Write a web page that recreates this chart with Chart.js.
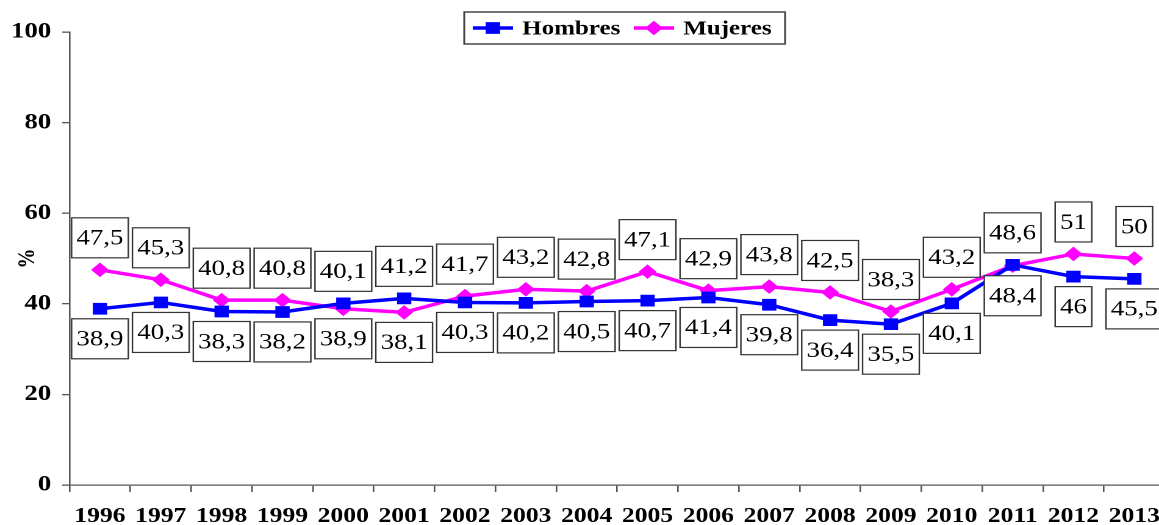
<!DOCTYPE html>
<html><head><meta charset="utf-8">
<script src="https://cdn.jsdelivr.net/npm/chart.js@4.4.1/dist/chart.umd.min.js"></script>
<style>
html,body{margin:0;padding:0;overflow:hidden;background:#fff;width:1159px;height:525px}
#wrap{position:absolute;left:0;top:0;width:963px;height:525px;transform:scaleX(1.22);transform-origin:0 0}
</style></head><body>
<div id="wrap"><canvas id="c" width="963" height="525" style="width:963px;height:525px"></canvas></div>
<script>
const categories = ['1996','1997','1998','1999','2000','2001','2002','2003','2004','2005','2006','2007','2008','2009','2010','2011','2012','2013'];
const hombres = [38.9,40.3,38.3,38.2,40.1,41.2,40.3,40.2,40.5,40.7,41.4,39.8,36.4,35.5,40.1,48.6,46,45.5];
const mujeres = [47.5,45.3,40.8,40.8,38.9,38.1,41.7,43.2,42.8,47.1,42.9,43.8,42.5,38.3,43.2,48.4,51,50];
const seriesNames = ['Hombres','Mujeres'];
const yMin = 0, yMax = 100, yStep = 20;
const yTitle = '%';

const SERIF = '"Liberation Serif","Times New Roman",serif';
const AXIS = '#555';

function marker(ctx, style, x, y, r, color){
  ctx.fillStyle = color;
  ctx.beginPath();
  if (style === 'rect') {
    const s = Math.SQRT1_2 * r;
    ctx.rect(x - s, y - s, 2*s, 2*s);
  } else {
    ctx.moveTo(x, y - r); ctx.lineTo(x + r, y); ctx.lineTo(x, y + r); ctx.lineTo(x - r, y); ctx.closePath();
  }
  ctx.fill();
}

const labelPlugin = {
  id: 'boxLabels',
  afterDatasetsDraw(chart){
    const ctx = chart.ctx;
    const m0 = chart.getDatasetMeta(0), m1 = chart.getDatasetMeta(1);
    ctx.save();
    ctx.font = '22px ' + SERIF;
    ctx.textAlign = 'center';
    ctx.textBaseline = 'middle';
    for (let i = 0; i < categories.length; i++) {
      const items = [{v: hombres[i], p: m0.data[i]}, {v: mujeres[i], p: m1.data[i]}];
      items.sort((a, b) => a.p.y - b.p.y);
      items.forEach((it, k) => {
        const txt = String(it.v).replace('.', ',');
        const w = ctx.measureText(txt).width + 8;
        const h = 40;
        const x = it.p.x - w/2;
        const y = k === 0 ? it.p.y - 12 - h : it.p.y + 10;
        ctx.fillStyle = '#fff';
        ctx.fillRect(x, y, w, h);
        ctx.strokeStyle = '#333';
        ctx.lineWidth = 1.2;
        ctx.strokeRect(x, y, w, h);
        ctx.fillStyle = '#000';
        ctx.fillText(txt, it.p.x, y + h/2 + 1);
      });
    }
    ctx.restore();
  }
};

const legendPlugin = {
  id: 'boxLegend',
  afterDraw(chart){
    const ctx = chart.ctx;
    ctx.save();
    const x0 = 380.5, y0 = 12, x1 = 643.5, y1 = 44, cy = (y0 + y1)/2;
    ctx.fillStyle = '#fff';
    ctx.fillRect(x0, y0, x1 - x0, y1 - y0);
    ctx.strokeStyle = '#444';
    ctx.lineWidth = 1.5;
    ctx.strokeRect(x0, y0, x1 - x0, y1 - y0);
    ctx.font = 'bold 20.5px ' + SERIF;
    ctx.textAlign = 'left';
    ctx.textBaseline = 'middle';
    let x = x0 + 7;
    chart.data.datasets.forEach(ds => {
      ctx.strokeStyle = ds.borderColor;
      ctx.lineWidth = 3.5;
      ctx.beginPath(); ctx.moveTo(x, cy); ctx.lineTo(x + 33, cy); ctx.stroke();
      marker(ctx, ds.pointStyle, x + 16.5, cy, ds.pointStyle === 'rect' ? 8.3 : 7.3, ds.borderColor);
      ctx.fillStyle = '#000';
      ctx.fillText(ds.label, x + 40.5, cy + 1);
      x += 40.5 + ctx.measureText(ds.label).width + 11;
    });
    ctx.restore();
  }
};

new Chart(document.getElementById('c'), {
  type: 'line',
  data: {
    labels: categories,
    datasets: [
      {label: seriesNames[0], data: hombres, borderColor: '#0000FF', backgroundColor: '#0000FF',
       pointBackgroundColor: '#0000FF', pointBorderColor: '#0000FF', pointStyle: 'rect',
       pointRadius: 8.3, pointBorderWidth: 0, borderWidth: 3.5, tension: 0, fill: false},
      {label: seriesNames[1], data: mujeres, borderColor: '#FF00FF', backgroundColor: '#FF00FF',
       pointBackgroundColor: '#FF00FF', pointBorderColor: '#FF00FF', pointStyle: 'rectRot',
       pointRadius: 7.3, pointBorderWidth: 0, borderWidth: 3.5, tension: 0, fill: false}
    ]
  },
  options: {
    responsive: false,
    animation: false,
    devicePixelRatio: 2,
    events: [],
    layout: {padding: {top: 32, right: 0, left: 0, bottom: 0}},
    plugins: {legend: {display: false}, tooltip: {enabled: false}, title: {display: false}},
    scales: {
      x: {
        type: 'category',
        offset: true,
        grid: {display: true, offset: true, drawOnChartArea: false, drawTicks: true, tickLength: 7, color: AXIS, lineWidth: 1.3},
        border: {display: true, color: AXIS, width: 1.3},
        ticks: {color: '#000', font: {family: SERIF, size: 21, weight: 'bold'}, padding: 12, maxRotation: 0, autoSkip: false},
        afterFit(s){ s.height = 40; }
      },
      y: {
        min: yMin, max: yMax,
        grid: {display: true, drawOnChartArea: false, drawTicks: true, tickLength: 6, color: AXIS, lineWidth: 1.3},
        border: {display: true, color: AXIS, width: 1.3},
        ticks: {stepSize: yStep, color: '#000', font: {family: SERIF, size: 22, weight: 'bold'}, padding: 9},
        title: {display: true, text: yTitle, color: '#000', font: {family: SERIF, size: 20, weight: 'bold'}, padding: {top: 11, bottom: 0}},
        afterFit(s){ s.width = 57; }
      }
    }
  },
  plugins: [labelPlugin, legendPlugin]
});
</script>
</body></html>
